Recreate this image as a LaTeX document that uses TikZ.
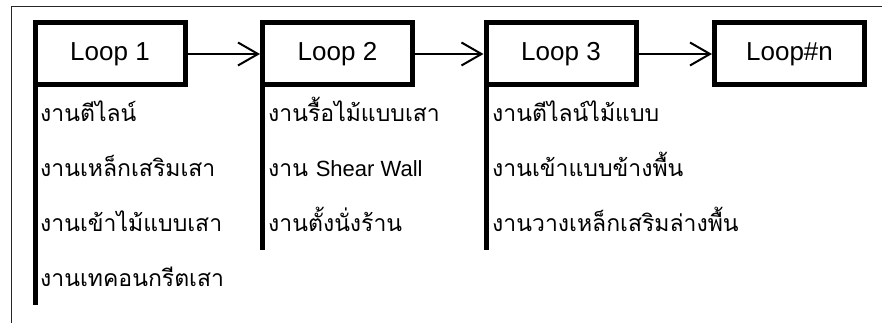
\documentclass[tikz,border=0pt]{standalone}
\usepackage{fontspec}
\setmainfont{Liberation Sans}
\newfontfamily\thai[Script=Thai]{Loma}
\usetikzlibrary{arrows.meta}
\begin{document}
\begin{tikzpicture}[x=1pt,y=1pt,
  loopbox/.style={draw, line width=5pt, minimum width=150pt, minimum height=62pt,
    inner sep=0pt, outer sep=0pt, font=\fontsize{26}{30}\selectfont},
  spine/.style={line width=5pt, line cap=rect},
  flow/.style={line width=2pt, -{Straight Barb[length=20pt,width=23pt,line width=2pt]}, shorten >=2.5pt},
  task/.style={anchor=base west, inner sep=0pt, font=\fontsize{23}{27}\selectfont\thai},
  frameline/.style={line width=1pt, black!85}]
\useasboundingbox (0,0) rectangle (882,323);
% frame
\draw[frameline] (11,0) -- (11,316) -- (882,316);
% boxes
\node[loopbox] (b1) at (110,269) {Loop 1};
\node[loopbox] (b2) at (337.5,269) {Loop 2};
\node[loopbox] (b3) at (561,269) {Loop 3};
\node[loopbox] (bn) at (789.5,269) {Loop\#n};
% spines
\coordinate (e1) at (b1.south west |- 0,20);
\coordinate (e2) at (b2.south west |- 0,75);
\coordinate (e3) at (b3.south west |- 0,75);
\draw[spine] (b1.north west) -- (e1);
\draw[spine] (b2.north west) -- (e2);
\draw[spine] (b3.north west) -- (e3);
% arrows
\draw[flow] (b1.east) -- (b2.west);
\draw[flow] (b2.east) -- (b3.west);
\draw[flow] (b3.east) -- (bn.west);
% tasks loop 1
\node[task] (t11) at (40,201) {งานตีไลน์};
\node[task] (t12) at (40,146) {งานเหล็กเสริมเสา};
\node[task] (t13) at (40,91) {งานเข้าไม้แบบเสา};
\node[task] (t14) at (40,36) {งานเทคอนกรีตเสา};
% tasks loop 2
\node[task] (t21) at (268,201) {งานรื้อไม้แบบเสา};
\node[task] (t22) at (268,146) {งาน {\rmfamily\fontsize{22}{26}\selectfont Shear Wall}};
\node[task] (t23) at (268,91) {งานตั้งนั่งร้าน};
% tasks loop 3
\node[task] (t31) at (492,201) {งานตีไลน์ไม้แบบ};
\node[task] (t32) at (492,146) {งานเข้าแบบข้างพื้น};
\node[task] (t33) at (492,91) {งานวางเหล็กเสริมล่างพื้น};
\end{tikzpicture}
\end{document}
